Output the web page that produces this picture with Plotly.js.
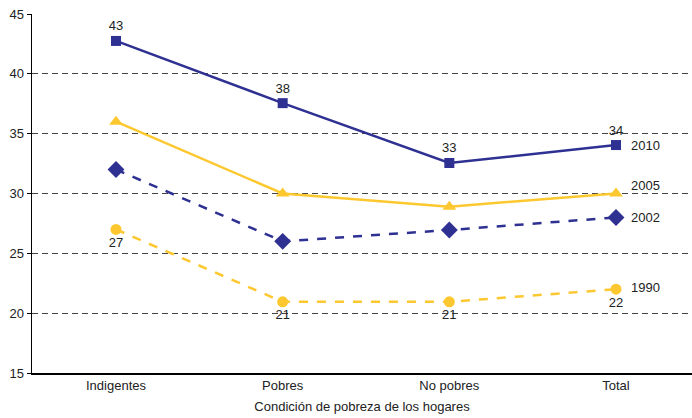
<!DOCTYPE html>
<html>
<head>
<meta charset="utf-8">
<script src="https://cdn.plot.ly/plotly-3.0.1.min.js"></script>
<style>html,body{margin:0;padding:0;background:#fff;}#chart{width:692px;height:418px;}</style>
</head>
<body>
<div id="chart"></div>
<script>
const categories = ["Indigentes", "Pobres", "No pobres", "Total"];
const years = ["2010", "2005", "2002", "1990"];
const v2010 = [42.75, 37.55, 32.55, 34.05];
const v2005 = [36.0, 30.0, 28.9, 30.0];
const v2002 = [32.0, 26.0, 26.95, 28.0];
const v1990 = [27.0, 20.95, 20.95, 22.0];
const yTicks = [15, 20, 25, 30, 35, 40, 45];

const BLUE = "#2E3192";
const YELLOW = "#FDC82F";
const FONT = "Liberation Sans, Arial, sans-serif";
const FS = 13;

function trace(vals, name, color, dash, symbol, size, textpos) {
  return {
    x: categories, y: vals, name: name, type: "scatter",
    mode: textpos ? "lines+markers+text" : "lines+markers",
    line: {color: color, width: 2.5, dash: dash},
    marker: {color: color, symbol: symbol, size: size},
    text: textpos ? vals.map(v => String(Math.round(v))) : undefined,
    textposition: textpos,
    textfont: {family: FONT, size: FS, color: "#222"},
    cliponaxis: false,
    hoverinfo: "x+y"
  };
}

const data = [
  trace(v1990, "1990", YELLOW, "dash", "circle", 11, "bottom center"),
  trace(v2002, "2002", BLUE, "dash", "diamond", 13, null),
  trace(v2005, "2005", YELLOW, "solid", "triangle-up", 12, null),
  trace(v2010, "2010", BLUE, "solid", "square", 10, "top center")
];

const seriesLast = [v2010[3], v2005[3], v2002[3], v1990[3]];
const yShifts = [0, 8, 0, 2];
const annotations = years.map((yr, i) => ({
  x: categories[3], y: seriesLast[i], xref: "x", yref: "y",
  text: yr, showarrow: false, xanchor: "left", xshift: 13, yshift: yShifts[i],
  font: {family: FONT, size: FS, color: "#222"}
}));

const layout = {
  width: 692, height: 418,
  margin: {l: 32, r: 0, t: 14, b: 45},
  paper_bgcolor: "#fff", plot_bgcolor: "#fff",
  showlegend: false,
  font: {family: FONT, size: FS, color: "#222"},
  xaxis: {
    type: "category", range: [-0.504, 3.456],
    showgrid: false, zeroline: false,
    showline: true, linecolor: "#000", linewidth: 1.5,
    ticks: "", tickfont: {family: FONT, size: FS, color: "#222"},
    title: {text: "Condición de pobreza de los hogares", font: {family: FONT, size: FS, color: "#222"}, standoff: 10}
  },
  yaxis: {
    range: [15, 45], tickvals: yTicks, ticktext: yTicks.map(String),
    showgrid: true, gridcolor: "#444", griddash: "6px,4px", gridwidth: 1,
    zeroline: false, showline: true, linecolor: "#000", linewidth: 1.5,
    ticks: "outside", ticklen: 4, tickcolor: "#000",
    tickfont: {family: FONT, size: FS, color: "#222"}
  },
  annotations: annotations
};

Plotly.newPlot("chart", data, layout, {staticPlot: true, displayModeBar: false});
</script>
</body>
</html>
